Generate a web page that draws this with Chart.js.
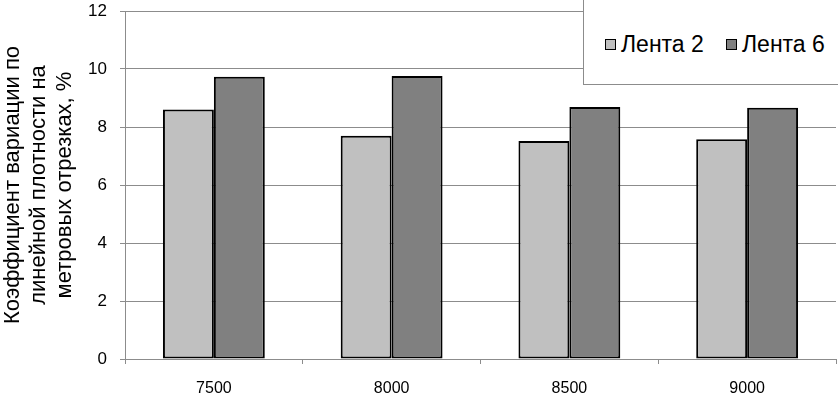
<!DOCTYPE html>
<html>
<head>
<meta charset="utf-8">
<script src="https://cdn.jsdelivr.net/npm/chart.js@4.4.0/dist/chart.umd.min.js"></script>
<style>
  body { margin: 0; background: #fff; }
  #wrap { position: relative; width: 838px; height: 393px; }
  #legend {
    position: absolute; left: 583px; top: -1px; width: 256px; height: 86px;
    box-sizing: border-box; border: 1px solid #8c8c8c; background: #fff;
    font-family: "Liberation Sans", Arial, sans-serif; font-size: 23px; color: #000;
  }
  .item { position: absolute; top: 31px; white-space: nowrap; line-height: 26px; }
  .box { display: inline-block; width: 9px; height: 9px; border: 1.5px solid #000; margin-right: 5px; vertical-align: 2px; }
</style>
</head>
<body>
<div id="wrap">
  <canvas id="mycanvas" width="838" height="393"></canvas>
  <div id="legend"></div>
</div>
<script>
var categories = ['7500', '8000', '8500', '9000'];
var lenta2 = [8.6, 7.7, 7.52, 7.58];
var lenta6 = [9.73, 9.76, 8.69, 8.66];
var seriesNames = ['Лента 2', 'Лента 6'];
var yTitle = ['Коэффициент вариации по', 'линейной плотности на', 'метровых отрезках, %'];

var font = "'Liberation Sans', Arial, sans-serif";

var ctx = document.getElementById('mycanvas');
var myChart = new Chart(ctx, {
    type: 'bar',
    data: {
        labels: categories,
        datasets: [{
            label: seriesNames[0],
            data: lenta2,
            backgroundColor: '#c0c0c0',
            borderColor: '#000',
            borderWidth: 2,
            borderSkipped: false
        }, {
            label: seriesNames[1],
            data: lenta6,
            backgroundColor: '#808080',
            borderColor: '#000',
            borderWidth: 2,
            borderSkipped: false
        }]
    },
    options: {
        responsive: false,
        animation: false,
        categoryPercentage: 0.573,
        barPercentage: 1,
        layout: { padding: { top: 11, right: 2, bottom: 0, left: 0 } },
        plugins: {
            legend: { display: false },
            tooltip: { enabled: false }
        },
        scales: {
            x: {
                grid: { offset: true, drawOnChartArea: false, color: '#8c8c8c', tickLength: 5 },
                border: { color: '#8c8c8c' },
                ticks: { color: '#000', font: { family: font, size: 16 }, padding: 15 },
                afterFit: function(axis) {
                    axis.height = 34;
                    axis.paddingLeft = 0;
                    axis.paddingRight = 0;
                }
            },
            y: {
                min: 0,
                max: 12,
                ticks: { stepSize: 2, color: '#000', font: { family: font, size: 17 }, padding: 13 },
                grid: { color: '#8c8c8c', tickLength: 5 },
                border: { color: '#8c8c8c' },
                title: {
                    display: true,
                    text: yTitle,
                    color: '#000',
                    font: { family: font, size: 22, lineHeight: 1.18 },
                    padding: 0
                },
                afterFit: function(axis) {
                    axis.width = 125;
                    axis.paddingTop = 0;
                    axis.paddingBottom = 0;
                }
            }
        }
    }
});

// legend box built from the datasets
var legend = document.getElementById('legend');
var lefts = [21, 142];
myChart.data.datasets.forEach(function(ds, i) {
    var item = document.createElement('div');
    item.className = 'item';
    item.style.left = lefts[i] + 'px';
    item.innerHTML = '<span class="box" style="background:' + ds.backgroundColor + '"></span>' + ds.label;
    legend.appendChild(item);
});
</script>
</body>
</html>
